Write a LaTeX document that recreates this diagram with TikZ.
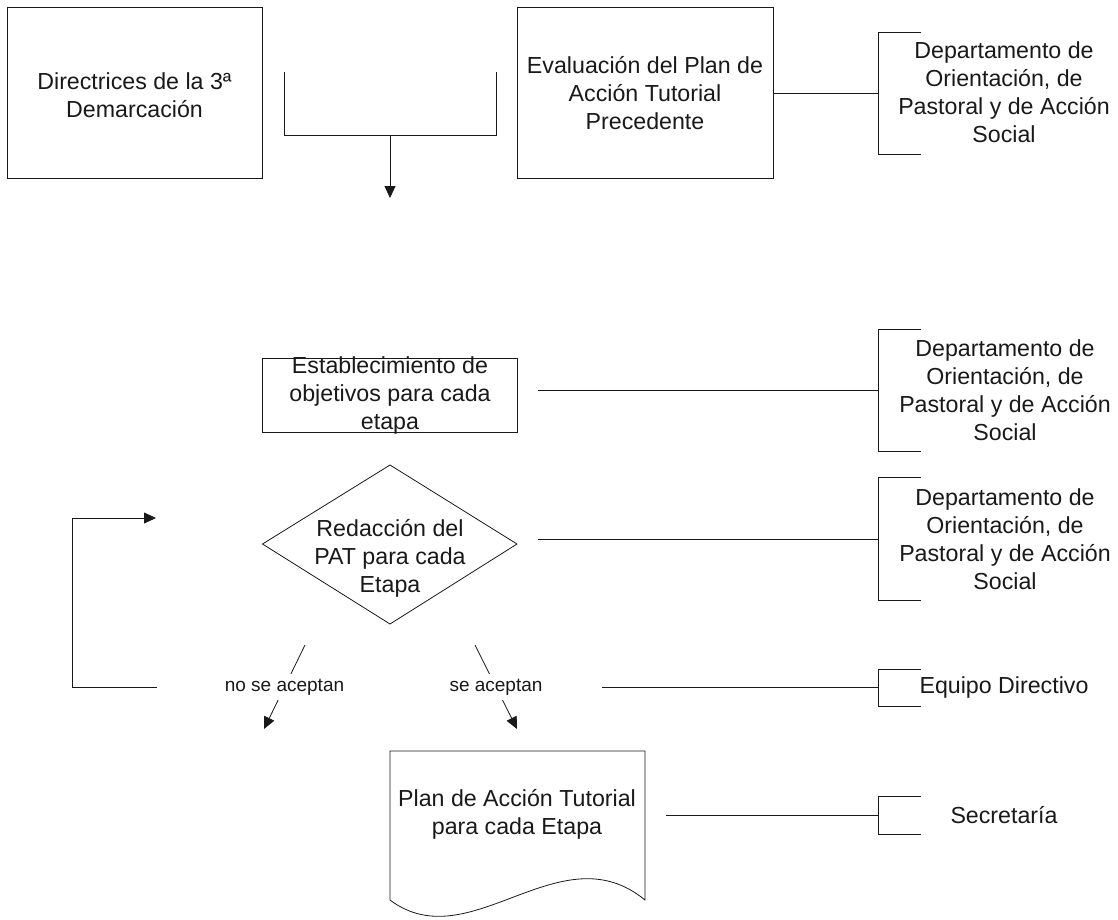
\documentclass[tikz,border=0pt]{standalone}
\usepackage{fontspec}
\setmainfont{Liberation Sans}
\usepackage{tkz-euclide}
\usepackage{tikz}
\usetikzlibrary{arrows.meta}
\usetikzlibrary{positioning}
\tikzset{>={Triangle[length=12pt,width=11pt]},
  txt/.style={align=center,inner sep=0pt,font=\fontsize{23.2}{28}\selectfont},
  lbl/.style={fill=white,inner xsep=2pt,inner ysep=5pt,font=\fontsize{19}{23}\selectfont}}
\colorlet{penColor}{black!90}

\begin{document}
\begin{tikzpicture}[x=1pt,y=-1pt,line width=.8pt,color=penColor]
    \useasboundingbox (0,0) rectangle (1118,919);

    \tkzDefPoint(7,7){A1}
    \tkzDefPoint(262,7){A2}
    \tkzDefPoint(262,178){A3}
    \tkzDefPoint(7,178){A4}
    \draw (A1)--(A2)--(A3)--(A4)--cycle;
    \node[txt] (dirTxt) at (134.5,95) {Directrices de la 3ª\\Demarcación};

    \tkzDefPoint(517,7){E1}
    \tkzDefPoint(773,7){E2}
    \tkzDefPoint(773,178){E3}
    \tkzDefPoint(517,178){E4}
    \draw (E1)--(E2)--(E3)--(E4)--cycle;
    \node[txt] (evalTxt) at (645,93) {Evaluación del Plan de\\Acción Tutorial\\Precedente};

    \tkzDefPoint(284,72){U1}
    \tkzDefPoint(284,135){U2}
    \tkzDefPoint(496,135){U3}
    \tkzDefPoint(496,72){U4}
    \tkzDefPoint(390,135){U5}
    \tkzDefPoint(390,198){U6}
    \draw (U1)--(U2)--(U3)--(U4);
    \draw[->] (U5)--(U6);

    \tkzDefPoint(262.5,358){S1}
    \tkzDefPoint(517,358){S2}
    \tkzDefPoint(517,432){S3}
    \tkzDefPoint(262.5,432){S4}
    \draw (S1)--(S2)--(S3)--(S4)--cycle;
    \node[txt] (estTxt) at (390,395) {Establecimiento de\\objetivos para cada\\etapa};

    \tkzDefPoint(390,465){R1}
    \tkzDefPoint(517,544){R2}
    \tkzDefPoint(390,624){R3}
    \tkzDefPoint(262.5,544){R4}
    \draw (R1)--(R2)--(R3)--(R4)--cycle;
    \node[txt] (redTxt) at (390,558) {Redacción del\\PAT para cada\\Etapa};

    \tkzDefPoint(390,751){D1}
    \tkzDefPoint(645,751){D2}
    \tkzDefPoint(645,900){D3}
    \tkzDefPoint(560,830){D4}
    \tkzDefPoint(470,960){D5}
    \tkzDefPoint(390,900){D6}
    \draw (D1)--(D2)--(D3) .. controls (D4) and (D5) .. (D6)--cycle;
    \node[txt] (planTxt) at (517,814) {Plan de Acción Tutorial\\para cada Etapa};

    % decision arrows
    \tkzDefPoint(305,645){N1}
    \tkzDefPoint(264,729){N2}
    \tkzDefPoint(475,645){Y1}
    \tkzDefPoint(517,729){Y2}
    \draw[->] (N1)-- node[lbl] (noTxt) {no se aceptan} (N2);
    \draw[->] (Y1)-- node[lbl] (siTxt) {se aceptan} (Y2);

    \tkzDefPoint(157,687){F1}
    \tkzDefPoint(72,687){F2}
    \tkzDefPoint(156,518){F3}
    \draw[->] (F1)--(F2) |- (F3);

    % responsables
    \node[txt] (dep1) at (1004,92) {Departamento de\\Orientación, de\\Pastoral y de Acción\\Social};
    \node[txt] (dep2) at (1005,390) {Departamento de\\Orientación, de\\Pastoral y de Acción\\Social};
    \node[txt] (dep3) at (1005,539) {Departamento de\\Orientación, de\\Pastoral y de Acción\\Social};
    \node[txt] (equipo) at (1004,687) {Equipo Directivo};
    \node[txt] (secre) at (1004,815) {Secretaría};

    \draw (921,32)--(878,32)--(878,154)--(921,154);
    \draw (921,329)--(878,329)--(878,451)--(921,451);
    \draw (921,477)--(878,477)--(878,600)--(921,600);
    \draw (921,669)--(878,669)--(878,706)--(921,706);
    \draw (921,796)--(878,796)--(878,834)--(921,834);

    \tkzDefPoint(773,93){L1a}
    \tkzDefPoint(878,93){L1b}
    \tkzDefPoint(538,390){L2a}
    \tkzDefPoint(878,390){L2b}
    \tkzDefPoint(538,539){L3a}
    \tkzDefPoint(878,539){L3b}
    \tkzDefPoint(602,687){L4a}
    \tkzDefPoint(878,687){L4b}
    \tkzDefPoint(666,815){L5a}
    \tkzDefPoint(878,815){L5b}
    \draw (L1a)--(L1b);
    \draw (L2a)--(L2b);
    \draw (L3a)--(L3b);
    \draw (L4a)--(L4b);
    \draw (L5a)--(L5b);
  \end{tikzpicture}
\end{document}
